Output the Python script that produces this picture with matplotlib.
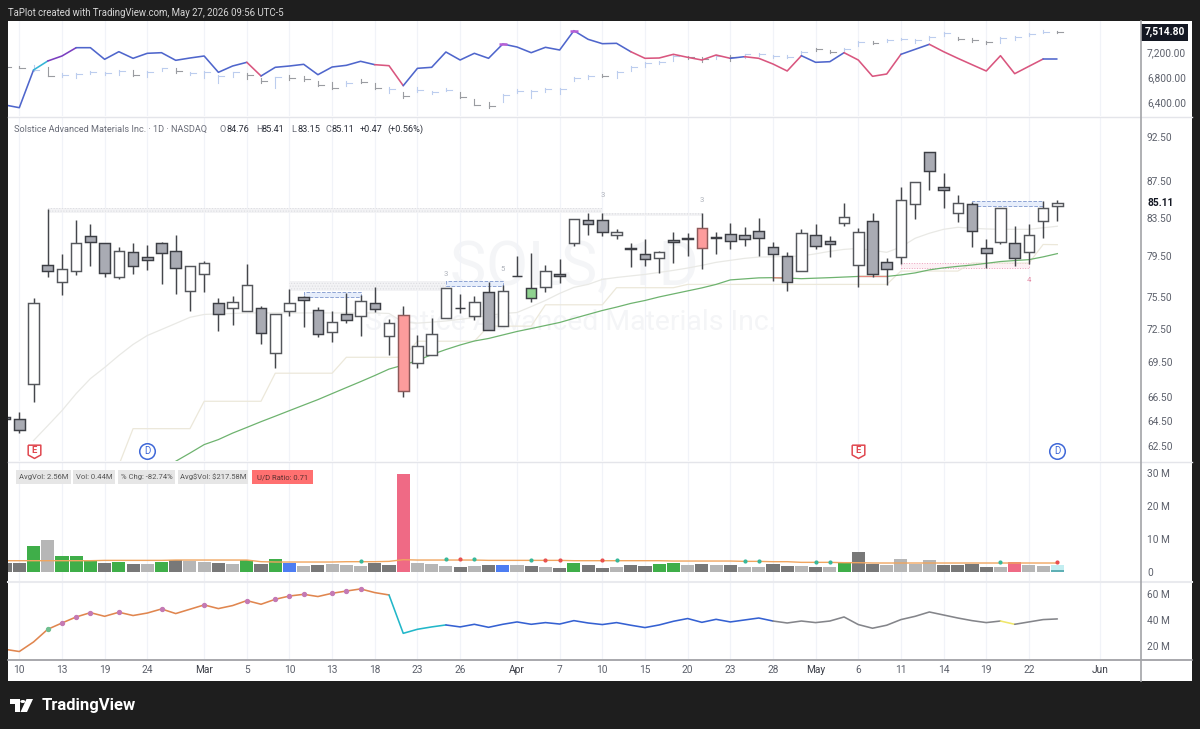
import matplotlib
matplotlib.use("Agg")
import matplotlib.pyplot as plt
from matplotlib.patches import Rectangle, Circle, Polygon
from matplotlib.path import Path
from matplotlib.ticker import NullFormatter, NullLocator

plt.rcParams["font.family"] = ["Roboto", "DejaVu Sans"]
plt.rcParams["hatch.linewidth"] = 0.5

W, H = 1200, 729

# bar numbers run from -1 (cut off at the left edge) to 73 (last session)
bars = list(range(-1, 74))
tick_pos = [0, 3, 6, 9, 13, 16, 19, 22, 25, 28, 31, 35, 38, 41, 44, 47, 50, 53, 56, 59, 62, 65, 68, 71, 76]
tick_labels = ["10", "13", "19", "24", "Mar", "5", "10", "13", "18", "23", "26", "Apr", "7", "10",
               "15", "20", "23", "28", "May", "6", "11", "14", "19", "22", "Jun"]
month_labels = ["Mar", "Apr", "May", "Jun"]

# candles: top of body, bottom of body, high, low
body_top = [64.87, 64.65, 74.92, 78.68, 78.21, 80.91, 81.57, 80.87, 80.05, 79.95, 79.44, 80.84, 80.02,
            78.54, 78.84, 74.96, 75.08, 76.70, 74.45, 73.86, 74.92, 75.47, 74.26, 73.18, 73.92, 75.11,
            74.92, 73.05, 73.83, 70.94, 72.07, 76.34, 74.51, 74.99, 75.95, 76.12, 77.58, 76.37, 78.04,
            77.78, 83.35, 83.24, 83.31, 82.01, 80.32, 79.79, 79.95, 81.22, 81.43, 82.47, 81.46, 81.80,
            81.74, 82.12, 80.46, 79.51, 81.95, 81.74, 81.08, 83.55, 82.01, 83.21, 78.98, 85.41, 87.33,
            90.75, 86.83, 85.09, 85.02, 80.32, 84.52, 80.87, 81.74, 84.59, 85.11]
body_bot = [64.70, 63.79, 67.59, 78.08, 76.99, 78.08, 80.94, 77.84, 77.49, 78.58, 79.11, 79.89, 78.34,
            76.12, 77.74, 73.92, 74.51, 74.23, 72.16, 70.35, 74.16, 75.21, 72.07, 72.25, 73.30, 73.76,
            74.39, 71.91, 67.05, 69.46, 70.17, 73.49, 74.42, 73.76, 72.40, 72.74, 77.51, 75.40, 76.47,
            77.54, 80.87, 82.85, 81.98, 81.74, 80.25, 79.28, 79.34, 81.02, 81.33, 80.32, 81.36, 81.08,
            81.28, 81.39, 79.79, 76.99, 78.06, 80.61, 80.81, 83.00, 78.64, 77.78, 78.24, 79.41, 85.02,
            88.62, 86.55, 84.01, 82.12, 79.89, 80.94, 79.38, 79.95, 83.21, 84.76]
high = [65.04, 65.29, 75.40, 84.48, 79.75, 83.31, 82.89, 80.87, 80.46, 80.91, 80.71, 81.02, 81.74,
        78.54, 79.01, 75.44, 75.57, 78.78, 74.64, 73.86, 76.32, 75.60, 74.58, 74.16, 75.89, 75.66,
        76.47, 73.46, 74.70, 72.00, 73.55, 76.34, 75.83, 75.57, 76.95, 76.63, 79.51, 79.89, 78.61,
        79.28, 83.38, 84.01, 84.01, 82.37, 80.91, 81.25, 80.05, 82.01, 81.95, 84.01, 81.98, 83.00,
        82.50, 83.53, 80.94, 79.99, 82.33, 82.89, 81.63, 85.05, 82.43, 84.01, 79.34, 86.80, 87.33,
        90.78, 88.44, 86.00, 85.16, 81.28, 84.52, 82.66, 82.89, 85.27, 85.41]
low = [64.60, 63.57, 66.13, 77.49, 75.66, 77.64, 78.54, 77.49, 77.25, 77.71, 78.11, 76.80, 75.83,
       74.16, 75.98, 72.31, 72.90, 74.23, 71.12, 68.98, 73.70, 72.65, 71.76, 71.28, 73.09, 71.85,
       74.07, 70.11, 66.55, 69.02, 70.17, 73.49, 74.01, 73.37, 72.40, 72.74, 77.51, 74.99, 76.02,
       76.90, 80.61, 81.67, 81.60, 81.28, 78.44, 78.58, 77.84, 78.84, 79.51, 78.21, 79.79, 80.22,
       80.61, 79.51, 77.05, 76.08, 78.06, 80.30, 79.44, 82.65, 76.51, 77.45, 76.70, 78.74, 83.38,
       86.55, 84.55, 83.06, 80.46, 78.38, 80.77, 78.54, 78.71, 81.36, 83.15]
# w = hollow, g = filled grey, r = red, e = green
candle_kind = list("ggwgwwggwg" "gggwwgwwgw" "wggwgwgwrw" "wwgwgwgewg" "wggwggwggr" "ggggggwggw" "wggwwggwgg" "wgwww")

ma_fast = [None, None, 62.93, 64.13, 65.37, 66.80, 68.08, 69.05, 70.11, 71.10, 71.91, 72.46, 73.02, 73.59,
           73.86, 73.91, 73.95, 74.00, 74.00, 74.00, 74.00, 74.00, 74.00, 74.00, 74.00, 74.00, 74.00,
           73.95, 73.14, 73.05, 73.14, 73.25, 73.40, 73.58, 73.76, 73.95, 74.04, 74.60, 75.18, 75.86,
           76.44, 76.73, 77.22, 77.41, 77.56, 77.71, 77.91, 78.11, 78.34, 78.61, 78.91, 79.11, 79.31,
           79.44, 79.46, 79.51, 79.54, 79.77, 80.02, 80.22, 80.32, 80.12, 79.92, 80.46, 81.36, 81.88,
           82.29, 82.50, 82.40, 82.33, 82.29, 82.29, 82.29, 82.45, 82.61]
step_line = [None] * 8 + [61.0, 63.89, 63.89, 63.89, 63.89, 63.89, 66.15, 66.15, 66.15, 66.15, 66.15,
             68.55, 68.55, 68.55, 68.55, 68.55, 69.95, 69.95, 69.95, 69.95, 69.95,
             71.39, 71.39, 71.39, 71.39, 71.39, 72.77, 72.77, 72.77, 72.77,
             74.77, 74.77, 74.77, 74.77, 74.77, 76.41, 76.41, 76.41, 76.41, 76.41,
             76.73, 76.73, 76.73, 76.73, 76.73, 76.73, 76.73, 76.73, 76.73, 76.73, 76.73, 76.73, 76.73,
             76.73, 76.73, 78.04, 78.04, 78.04, 78.04, 78.04, 78.84, 78.84, 78.84, 78.84, 78.84,
             80.72, 80.70]
ma_slow = [None] * 12 + [61.30, 61.94, 62.61, 63.01, 63.53, 63.99, 64.46, 64.91, 65.37, 65.83, 66.29, 66.80,
           67.31, 67.82, 68.35, 68.91, 69.26, 69.66, 70.19, 70.64, 71.05, 71.41, 71.64, 71.96, 72.28,
           72.55, 72.83, 73.11, 73.49, 73.86, 74.23, 74.55, 74.90, 75.18, 75.52, 75.81, 76.10, 76.39,
           76.73, 77.17, 77.27, 77.37, 77.39, 77.35, 77.29, 77.34, 77.39, 77.45, 77.51, 77.51, 77.51,
           77.66, 77.86, 78.16, 78.36, 78.51, 78.64, 78.81, 78.99, 79.09, 79.18, 79.46, 79.79]

# zones: first bar, last bar, top price, bottom price
grey_zones = [(2, 41, 84.52, 83.98), (41, 48, 84.01, 83.69), (19, 30, 77.02, 76.05)]
blue_zones = [(20, 24, 75.95, 75.47), (30, 34, 77.02, 76.54), (67, 72, 85.27, 84.78)]
pink_zones = [(62, 71, 78.84, 78.34)]
count_bars = [30, 34, 41, 48, 71]
count_prices = [77.71, 78.21, 85.93, 85.38, 77.12]
count_texts = ["3", "5", "3", "3", "4"]
earnings_bars = [1, 59]
dividend_bars = [9, 73]
event_price = 62.12
main_ticks = [92.5, 87.5, 83.5, 79.5, 75.5, 72.5, 69.5, 66.5, 64.5, 62.5]

# top pane (index comparison line and its small bars)
index_line = [6352, 6309, 6912, 7056, 7136, 7269, 7269, 7083, 7205, 7099, 7179, 7189, 7067, 7104, 7136,
              6875, 6976, 7035, 6816, 6955, 6976, 7003, 6837, 6960, 6987, 7051, 6997, 6981, 6661, 6939,
              6955, 7200, 7072, 7179, 7099, 7328, 7280, 7189, 7275, 7232, 7541, 7403, 7333, 7339, 7205,
              7099, 7104, 7163, 7115, 7072, 7152, 7099, 7125, 7099, 7008, 6896, 7141, 7035, 7045, 7189,
              7072, 6811, 6848, 7163, 7243, 7323, 7205, 7099, 6997, 6896, 7141, 6853, 6971, 7088, 7088]
tick_close = [6965, 6939, 6912, 6821, 6832, 6848, 6880, 6859, 6901, 6832, 6885, 6939, 6901, 6869, 6885,
              6811, 6875, 6827, 6736, 6795, 6779, 6773, 6672, 6624, 6704, 6720, 6624, 6608, 6496, 6592,
              6555, 6597, 6485, 6357, 6331, 6517, 6581, 6581, 6608, 6613, 6779, 6816, 6811, 6880, 6960,
              7024, 7045, 7136, 7115, 7083, 7136, 7115, 7163, 7173, 7136, 7125, 7205, 7243, 7205, 7253,
              7365, 7349, 7392, 7413, 7392, 7445, 7509, 7413, 7397, 7355, 7419, 7445, 7488, 7525, 7514.8]
tick_high = [6976, 6976, 6992, 6965, 6869, 6869, 6901, 6880, 6912, 6912, 6896, 6949, 6949, 6885, 6896,
             6832, 6885, 6869, 6779, 6805, 6832, 6816, 6736, 6725, 6736, 6763, 6699, 6635, 6565, 6635,
             6581, 6619, 6565, 6448, 6405, 6528, 6608, 6592, 6619, 6624, 6795, 6832, 6848, 6891, 6971,
             7035, 7056, 7152, 7136, 7125, 7152, 7147, 7173, 7184, 7157, 7152, 7216, 7269, 7232, 7264,
             7376, 7381, 7408, 7429, 7413, 7461, 7520, 7445, 7424, 7381, 7435, 7461, 7509, 7547, 7536]
tick_low = [6944, 6939, 6896, 6821, 6795, 6779, 6853, 6832, 6832, 6816, 6805, 6901, 6859, 6832, 6789,
            6709, 6805, 6763, 6709, 6629, 6752, 6736, 6656, 6613, 6661, 6699, 6613, 6549, 6459, 6565,
            6523, 6576, 6464, 6347, 6309, 6395, 6549, 6464, 6565, 6523, 6736, 6763, 6795, 6779, 6901,
            6955, 7008, 7061, 7083, 7045, 7083, 7061, 7104, 7136, 7104, 7099, 7152, 7221, 7179, 7200,
            7296, 7323, 7360, 7387, 7339, 7392, 7456, 7392, 7365, 7328, 7349, 7392, 7461, 7504, 7499]
tick_down = [-1, 0, 2, 8, 11, 16, 17, 19, 20, 21, 22, 24, 25, 27, 31, 32, 33, 41, 47, 48, 50, 56, 57, 60,
             66, 67, 68, 73]
top_ticks = [7600, 7200, 6800, 6400]
last_index = 7514.80
index_peaks = [34, 39]

# volume, millions
volume = [2.6, 2.6, 7.9, 9.5, 4.75, 4.75, 3.5, 2.5, 2.9, 2.4, 2.4, 2.9, 3.5, 3.1, 2.9, 2.7, 2.4, 3.6, 2.4,
          3.7, 2.7, 1.7, 2.0, 2.4, 2.0, 1.6, 2.7, 1.9, 29.6, 2.6, 2.2, 1.7, 1.3, 1.7, 2.1, 2.1, 1.9, 1.7,
          1.3, 1.2, 2.5, 1.9, 1.2, 1.4, 2.0, 1.8, 2.2, 2.6, 2.0, 2.4, 2.0, 1.9, 1.4, 1.5, 2.2, 1.6, 1.7,
          1.3, 1.4, 2.8, 5.8, 2.3, 1.9, 3.9, 2.3, 3.4, 2.0, 2.0, 2.2, 1.5, 1.4, 2.8, 1.9, 1.8, 2.0]
# d = dark grey, l = light grey, e = green, b = blue, r = pink, c = pale cyan
volume_kind = list("ddeleeeded" "ledlldlede" "bldlllddrl" "lldldbldld" "eddlddeeld"
                   "ldllddldle" "ddlllldddd" "lrllc")
volume_today = 0.44
volume_ma = [3.3, 3.3, 3.3, 3.3, 3.3, 3.3, 3.3, 3.4, 3.4, 3.4, 3.4, 3.4, 3.5, 3.5, 3.5, 3.5, 3.5, 3.5, 3.0,
             2.9, 2.9, 2.9, 2.9, 2.9, 3.0, 3.0, 3.0, 3.1, 3.6, 3.5, 3.5, 3.5, 3.5, 3.5, 3.4, 3.4, 3.4, 3.4,
             3.4, 3.4, 3.3, 3.3, 3.3, 3.3, 3.3, 3.3, 3.3, 3.2, 3.2, 3.2, 3.2, 3.2, 3.1, 3.1, 3.0, 3.0, 2.8,
             2.8, 2.8, 2.7, 2.7, 2.6, 2.6, 2.6, 2.6, 2.6, 2.6, 2.6, 2.6, 2.6, 2.6, 2.6, 2.6, 2.6, 2.6]
vol_up_dots = [24, 30, 32, 36, 42, 51, 52, 56, 57, 69]
vol_down_dots = [31, 37, 38, 41, 73]
volume_ticks = [0, 10, 20, 30]
volume_tick_labels = ["0", "10 M", "20 M", "30 M"]

# lower pane, millions
lower_line = [17.6, 15.9, 23.2, 32.9, 37.7, 42.3, 45.6, 42.8, 45.9, 43.4, 45.3, 48.4, 44.9, 48.2, 51.5, 48.7,
              51.0, 54.8, 52.0, 55.8, 58.3, 59.6, 57.9, 60.4, 62.1, 63.7, 60.9, 59.1, 29.8, 32.9, 34.7,
              36.2, 34.7, 36.7, 34.4, 36.7, 38.5, 36.7, 38.0, 36.9, 39.5, 37.7, 36.5, 38.0, 36.0, 34.2,
              36.2, 39.0, 41.1, 38.2, 40.5, 38.5, 40.0, 41.5, 39.2, 37.7, 39.2, 38.0, 39.2, 42.3, 36.5,
              33.7, 36.0, 40.3, 42.8, 46.1, 43.8, 41.5, 39.5, 38.0, 39.2, 36.7, 38.5, 40.3, 40.8]
lower_dots = [3, 4, 5, 7, 10, 13, 16, 18, 19, 20, 22, 23, 24]
lower_ticks = [20, 40, 60]
lower_tick_labels = ["20 M", "40 M", "60 M"]

# (label, left px, right px) of the readouts in the volume pane
readouts = [("AvgVol: 2.56M", 16, 71), ("Vol: 0.44M", 73, 115), ("% Chg: -82.74%", 118, 175),
            (r"Avg\$Vol: \$217.58M", 178, 248), ("U/D Ratio: 0.71", 252, 313)]
ohlc_parts = [("O", 220, "#6a6d78"), ("84.76", 226.5, "#2a2e39"), ("H", 256, "#6a6d78"), ("85.41", 262, "#2a2e39"),
              ("L", 291, "#6a6d78"), ("83.15", 297, "#2a2e39"), ("C", 325, "#6a6d78"), ("85.11", 332, "#2a2e39"),
              ("+0.47", 360, "#2a2e39"), ("(+0.56%)", 387, "#2a2e39")]

GRID = "#f1f3f8"
AXIS_TXT = "#5c606b"
AXIS_SIZE = 7.3
X0, X1 = 8, 1140
SLOT, FIRST_X = 14.22, 19.3
XLIM = ((X0 - FIRST_X) / SLOT, (X1 - FIRST_X) / SLOT)


def fx(x):
    return x / W


def fy(y):
    return 1 - y / H


def pane(top, bottom):
    ax = fig.add_axes([fx(X0), fy(bottom), fx(X1 - X0), (bottom - top) / H], facecolor="white")
    ax.set_xlim(*XLIM)
    ax.set_xticks(tick_pos)
    ax.xaxis.grid(True, color=GRID, lw=0.9)
    ax.set_axisbelow(True)
    ax.tick_params(axis="x", length=0, labelbottom=False)
    ax.yaxis.tick_right()
    ax.tick_params(axis="y", length=0, pad=5, labelsize=AXIS_SIZE, labelcolor=AXIS_TXT)
    for s in ax.spines.values():
        s.set_visible(False)
    return ax


def coloured_line(ax, values, runs, lw):
    for start, end, colour in runs:
        xs = [b for b in bars if start <= b <= end]
        ys = [values[b + 1] for b in xs]
        ax.plot(xs, ys, color=colour, lw=lw, solid_joinstyle="round", solid_capstyle="round", zorder=4)


fig = plt.figure(figsize=(12, 7.29), dpi=100, facecolor="#1e1e1e")
fig.patches.append(Rectangle((fx(8), fy(681)), fx(1184), 660 / H, transform=fig.transFigure,
                             facecolor="white", edgecolor="none", zorder=-5))
fig.text(fx(8), fy(12.5), "TaPlot created with TradingView.com, May 27, 2026 09:56 UTC-5",
         color="#d6d6d6", fontsize=6.9, va="center")

# ---- top pane
ax_top = pane(21, 116)
ax_top.set_ylim(6176, 7696)
ax_top.set_yticks(top_ticks, [f"{v:,.2f}" for v in top_ticks])
for i, b in enumerate(bars):
    colour = "#9a9ca1" if b in tick_down else "#bccdee"
    ax_top.plot([b, b], [tick_low[i], tick_high[i]], color=colour, lw=0.8, zorder=2)
    ax_top.plot([b, b + 0.42], [tick_close[i], tick_close[i]], color=colour, lw=0.8, zorder=2)
BLUE, PINK = "#4f66cc", "#d9567f"
coloured_line(ax_top, index_line, [(-1, 1, BLUE), (1, 2, "#35b4d6"), (2, 4, "#7b3fc0"), (4, 16, BLUE),
                                   (16, 17, PINK), (17, 25, BLUE), (25, 27, PINK), (27, 43, BLUE),
                                   (43, 50, PINK), (50, 51, BLUE), (51, 55, PINK), (55, 58, BLUE),
                                   (58, 62, PINK), (62, 64, BLUE), (64, 72, PINK), (72, 73, BLUE)], 1.15)
ax_top.scatter(index_peaks, [index_line[b + 1] for b in index_peaks], marker="_", s=36, lw=1.8,
               color="#b85fd6", zorder=5)
ax_top.text(fx(1164.5), fy(32.3), f"{last_index:,.2f}", transform=fig.transFigure, color="white", fontsize=AXIS_SIZE,
            fontweight="bold", ha="center", va="center", zorder=9, clip_on=False,
            bbox=dict(boxstyle="square,pad=0.3", facecolor="#131722", edgecolor="none"))

# ---- main pane
ax = pane(117, 461)
ax.set_yscale("log")
ax.set_ylim(61.32, 94.9)
ax.yaxis.set_minor_locator(NullLocator())
ax.yaxis.set_minor_formatter(NullFormatter())
ax.set_yticks(main_ticks, [f"{v:.2f}" for v in main_ticks])
ax.set_xticks(tick_pos)

ax.text(fx(574), fy(268), "SOLS, 1D", transform=fig.transFigure, fontsize=44, color="#f4f5f7",
        ha="center", va="center", zorder=0.5)
ax.text(fx(571), fy(323), "Solstice Advanced Materials Inc.", transform=fig.transFigure, fontsize=20.4,
        color="#f4f5f7", ha="center", va="center", zorder=0.5)
ax.text(fx(14), fy(129), "Solstice Advanced Materials Inc. · 1D · NASDAQ", transform=fig.transFigure,
        fontsize=6.6, color="#6a6d78", va="center", zorder=9)
for label, x, colour in ohlc_parts:
    ax.text(fx(x), fy(129), label, transform=fig.transFigure, fontsize=6.6, color=colour, va="center", zorder=9)

for s, e, t, b in grey_zones:
    ax.add_patch(Rectangle((s, b), e - s, t - b, facecolor="#f3f3f5", edgecolor="#dcdde1", hatch="......", lw=0, zorder=1))
for s, e, t, b in blue_zones:
    ax.add_patch(Rectangle((s, b), e - s, t - b, facecolor="#e7eefb", edgecolor="#8ea4d4", lw=0.7, ls="--", zorder=1.2))
for s, e, t, b in pink_zones:
    ax.add_patch(Rectangle((s, b), e - s, t - b, facecolor="#fdf1f5", edgecolor="#eda0bd", lw=0.7, ls=":", zorder=1.2))

for vals, colour, lw in [(ma_fast, "#e9e9e5", 0.9), (step_line, "#ece8da", 0.9)]:
    xs = [b for b, v in zip(bars, vals) if v is not None]
    ys = [v for v in vals if v is not None]
    ax.plot(xs, ys, color=colour, lw=lw, zorder=2)
xs = [b for b, v in zip(bars, ma_slow) if v is not None]
ys = [v for v in ma_slow if v is not None]
ax.plot(xs, ys, color="#6eb36f", lw=0.9, zorder=2.2)
ax.plot([53, 54], [ma_slow[54], ma_slow[55]], color="#e58a80", lw=0.9, zorder=2.3)
ax.plot([59, 60, 61], [ma_slow[60], ma_slow[61], ma_slow[62]], color="#e58a80", lw=0.9, zorder=2.3)

fills = {"w": "white", "g": "#a9abb3", "r": "#fd9c9c", "e": "#8fd28f"}
edges = {"w": "#55575c", "g": "#3c3e44", "r": "#8f5a5a", "e": "#3c3e44"}
ax.vlines(bars, low, high, color="#44464b", lw=1.05, zorder=3)
ax.bar(bars, [t - b for t, b in zip(body_top, body_bot)], bottom=body_bot, width=0.74,
       color=[fills[k] for k in candle_kind], edgecolor=[edges[k] for k in candle_kind], lw=1.05, zorder=3.5)

for b, p, t in zip(count_bars, count_prices, count_texts):
    ax.text(b, p, t, fontsize=5.5, ha="center", va="center", zorder=5,
            color="#e48aa5" if t == "4" else "#adb1ba")

SHIELD = Path([(-1, 1), (1, 1), (1, -0.55), (0, -1.1), (-1, -0.55), (-1, 1)])
ax.scatter(earnings_bars, [event_price] * 2, marker=SHIELD, s=100, facecolor="white", edgecolor="#e0474f", lw=1.1, zorder=6)
ax.scatter(dividend_bars, [event_price] * 2, marker="o", s=125, facecolor="white", edgecolor="#3f68d8", lw=1.1, zorder=6)
for b in earnings_bars:
    ax.text(b, event_price, "E", fontsize=6.8, fontweight="bold", color="#e0474f", ha="center", va="center", zorder=7)
for b in dividend_bars:
    ax.text(b, event_price, "D", fontsize=7, color="#3f68d8", ha="center", va="center", zorder=7)

ax.text(fx(1147), fy(203), "85.11", transform=fig.transFigure, fontsize=AXIS_SIZE, fontweight="bold",
        color="#131722", va="center", zorder=9, clip_on=False)

# ---- volume pane
ax_vol = pane(462, 581)
ax_vol.set_ylim(-2.85, 33.2)
ax_vol.set_yticks(volume_ticks, volume_tick_labels)
vol_colours = {"d": "#787878", "l": "#b6b6b6", "e": "#3fae49", "b": "#4d7df2", "r": "#ef6a85", "c": "#c3eef1"}
ax_vol.bar(bars, volume, width=0.92, color=[vol_colours[k] for k in volume_kind], zorder=2)
ax_vol.bar([73], [volume_today], width=0.92, color="#5fb0b5", zorder=2.1)
ax_vol.plot(bars, volume_ma, color="#f0a55f", lw=1.0, zorder=3)
ax_vol.scatter(vol_up_dots, [volume_ma[b + 1] + 0.2 for b in vol_up_dots], s=4, color="#35b89a", zorder=4)
ax_vol.scatter(vol_down_dots, [volume_ma[b + 1] + 0.2 for b in vol_down_dots], s=4, color="#e8504f", zorder=4)
for label, left, right in readouts:
    red = label.startswith("U/D")
    ax_vol.add_patch(Rectangle((fx(left), fy(484)), fx(right - left), 14 / H, transform=fig.transFigure,
                               facecolor="#ff7070" if red else "#e6e6e6", edgecolor="none", zorder=8))
    ax_vol.text(fx((left + right) / 2), fy(477), label, transform=fig.transFigure, fontsize=5.5,
                color="#5c3030" if red else "#555555", ha="center", va="center", zorder=9)

# ---- lower pane
ax_low = pane(582, 659)
ax_low.set_ylim(10.2, 69.0)
ax_low.set_yticks(lower_ticks, lower_tick_labels)
coloured_line(ax_low, lower_line, [(-1, 26, "#e0864f"), (26, 30, "#22b7c9"), (30, 53, "#3561d2"),
                                   (53, 69, "#84858a"), (69, 70, "#f0e76a"), (70, 73, "#84858a")], 1.15)
ax_low.scatter(lower_dots, [lower_line[b + 1] for b in lower_dots], s=8, color="#c47ab4", zorder=5)
ax_low.scatter([2], [lower_line[3]], s=8, color="#6fbf8f", zorder=5)
ax_low.tick_params(axis="x", labelbottom=True, pad=4.5, labelsize=AXIS_SIZE, labelcolor=AXIS_TXT)
ax_low.set_xticks(tick_pos, tick_labels)
for lab in ax_low.get_xticklabels():
    if lab.get_text() in month_labels:
        lab.set_color("#3c3f48")

# ---- pane dividers and axis lines
for y, colour, lw in [(116.5, "#e4e5ea", 1), (461.5, "#e4e5ea", 1), (581.5, "#e9eaee", 1.5), (659.5, "#999a9e", 1.2)]:
    fig.add_artist(plt.Line2D([fx(8), fx(1192)], [fy(y), fy(y)], color=colour, lw=lw, zorder=20))
fig.add_artist(plt.Line2D([fx(1140.5), fx(1140.5)], [fy(21), fy(681)], color="#a2a3a7", lw=1.2, zorder=20))

# ---- footer logo
fig.patches.append(Polygon([(fx(10), fy(699)), (fx(20), fy(699)), (fx(20), fy(712)), (fx(14.5), fy(712)),
                            (fx(14.5), fy(704)), (fx(10), fy(704))], closed=True, transform=fig.transFigure,
                           facecolor="white", edgecolor="none"))
fig.patches.append(Circle((fx(22.8), fy(701.5)), 2.5 / W, transform=fig.transFigure, facecolor="white", edgecolor="none"))
fig.patches.append(Polygon([(fx(26.5), fy(699)), (fx(33), fy(699)), (fx(27), fy(712)), (fx(20.5), fy(712))],
                           closed=True, transform=fig.transFigure, facecolor="white", edgecolor="none"))
fig.text(fx(42), fy(705.5), "TradingView", color="white", fontsize=12, fontweight="bold", va="center")

fig.savefig("out.png", dpi=100, facecolor=fig.get_facecolor())
